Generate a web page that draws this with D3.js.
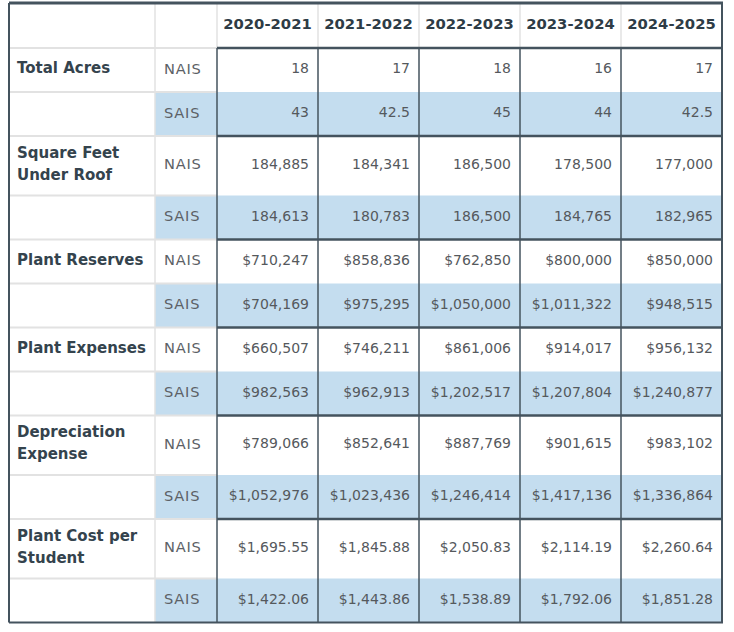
<!DOCTYPE html>
<html><head><meta charset="utf-8">
<script src="https://cdn.jsdelivr.net/npm/d3@7"></script>
<style>body{margin:0;background:#fff}svg{display:block}</style>
</head><body><svg id="c" width="734" height="632"></svg>
<script>
const years = ["2020-2021","2021-2022","2022-2023","2023-2024","2024-2025"];
const groups = ["NAIS","SAIS"];
const metrics = ["Total Acres","Square Feet Under Roof","Plant Reserves","Plant Expenses","Depreciation Expense","Plant Cost per Student"];
const metricLines = [["Total Acres"],["Square Feet","Under Roof"],["Plant Reserves"],["Plant Expenses"],["Depreciation","Expense"],["Plant Cost per","Student"]];
const totalAcresNAIS = [18,17,18,16,17];
const totalAcresSAIS = [43,42.5,45,44,42.5];
const sqFtNAIS = [184885,184341,186500,178500,177000];
const sqFtSAIS = [184613,180783,186500,184765,182965];
const reservesNAIS = [710247,858836,762850,800000,850000];
const reservesSAIS = [704169,975295,1050000,1011322,948515];
const expensesNAIS = [660507,746211,861006,914017,956132];
const expensesSAIS = [982563,962913,1202517,1207804,1240877];
const deprNAIS = [789066,852641,887769,901615,983102];
const deprSAIS = [1052976,1023436,1246414,1417136,1336864];
const costNAIS = [1695.55,1845.88,2050.83,2114.19,2260.64];
const costSAIS = [1422.06,1443.86,1538.89,1792.06,1851.28];

const seriesValues = [
  [totalAcresNAIS,totalAcresSAIS],[sqFtNAIS,sqFtSAIS],[reservesNAIS,reservesSAIS],
  [expensesNAIS,expensesSAIS],[deprNAIS,deprSAIS],[costNAIS,costSAIS]];
const fmtPlain = v => String(v);
const fmtComma = d3.format(",");
const fmtDollar = d3.format("$,");
const fmtDollar2 = d3.format("$,.2f");
const formats = [fmtPlain, fmtComma, fmtDollar, fmtDollar, fmtDollar, fmtDollar2];

const svg = d3.select("#c");
const FONT = "'DejaVu Sans', sans-serif";
const dark = "#44535e", light = "#e2e2e2", blue = "#c4ddef";
const xL = 9, xG = 155, xD = 217, xR = 722, yTop = 3, headH = 45;
const x = d3.scaleBand().domain(years).range([xD, xR]);
const dy = -2;

// build rows
const rows = [];
let y = yTop + headH;
metrics.forEach((m, i) => {
  groups.forEach((g, j) => {
    const h = j === 0 ? (metricLines[i].length > 1 ? 59.5 : 44) : 44;
    rows.push({m: i, g: j, y0: y, h, vals: seriesValues[i][j]});
    y += h;
  });
});
const yBot = y;

// fills
svg.selectAll("rect.fill").data(rows.filter(r => r.g === 1)).join("rect")
  .attr("x", xG).attr("y", d => d.y0).attr("width", xR - xG).attr("height", d => d.h)
  .attr("fill", blue);

// light lines: horizontal in label columns
svg.selectAll("line.hl").data(rows).join("line")
  .attr("x1", xL).attr("x2", xD).attr("y1", d => d.y0).attr("y2", d => d.y0)
  .attr("stroke", light).attr("stroke-width", 2);
svg.append("line").attr("x1", xG).attr("x2", xG).attr("y1", yTop).attr("y2", yBot).attr("stroke", light).attr("stroke-width", 1.5);
svg.selectAll("line.vh").data(years).join("line")
  .attr("x1", d => x(d)).attr("x2", d => x(d)).attr("y1", yTop).attr("y2", yTop + headH)
  .attr("stroke", light).attr("stroke-width", 1.5);

// dark lines in data region
svg.selectAll("line.vd").data(years).join("line")
  .attr("x1", d => x(d)).attr("x2", d => x(d)).attr("y1", yTop + headH).attr("y2", yBot)
  .attr("stroke", dark).attr("stroke-width", 1.5);
svg.selectAll("line.hd").data(rows.filter(r => r.g === 0)).join("line")
  .attr("x1", xD).attr("x2", xR).attr("y1", d => d.y0).attr("y2", d => d.y0)
  .attr("stroke", dark).attr("stroke-width", 2.5);

// outer border
svg.append("line").attr("x1", xL).attr("x2", xR + 1).attr("y1", yTop).attr("y2", yTop).attr("stroke", dark).attr("stroke-width", 3);
svg.append("line").attr("x1", xL).attr("x2", xR + 1).attr("y1", yBot).attr("y2", yBot).attr("stroke", dark).attr("stroke-width", 2);
svg.append("line").attr("x1", xL).attr("x2", xL).attr("y1", yTop).attr("y2", yBot).attr("stroke", dark).attr("stroke-width", 2);
svg.append("line").attr("x1", xR).attr("x2", xR).attr("y1", yTop).attr("y2", yBot).attr("stroke", dark).attr("stroke-width", 2);

// header text
svg.selectAll("text.hdr").data(years).join("text")
  .attr("x", d => x(d) + x.bandwidth() / 2).attr("y", yTop + headH / 2 + dy)
  .attr("text-anchor", "middle").attr("dominant-baseline", "central")
  .attr("font-family", FONT).attr("font-weight", "bold").attr("font-size", 14.8)
  .attr("fill", "#2e3c46").text(d => d);

// metric labels
const lab = svg.selectAll("text.lab").data(rows.filter(r => r.g === 0)).join("text")
  .attr("font-family", FONT).attr("font-weight", "bold").attr("font-size", 15)
  .attr("fill", "#34434d");
lab.each(function(d) {
  const lines = metricLines[d.m];
  const cy = d.y0 + d.h / 2 + dy;
  d3.select(this).selectAll("tspan").data(lines).join("tspan")
    .attr("x", 17).attr("y", (t, k) => cy + (k - (lines.length - 1) / 2) * 22)
    .attr("dominant-baseline", "central").text(t => t);
});

// group labels
svg.selectAll("text.grp").data(rows).join("text")
  .attr("x", 164).attr("y", d => d.y0 + d.h / 2 + dy)
  .attr("dominant-baseline", "central")
  .attr("font-family", FONT).attr("font-size", 14.6).attr("fill", "#5c6166")
  .attr("letter-spacing", 0.8)
  .text(d => groups[d.g]);

// values
rows.forEach(r => {
  svg.append("g").selectAll("text").data(r.vals).join("text")
    .attr("x", (v, k) => x(years[k]) + x.bandwidth() - 9)
    .attr("y", r.y0 + r.h / 2 + dy)
    .attr("text-anchor", "end").attr("dominant-baseline", "central")
    .attr("font-family", FONT).attr("font-size", 14)
    .attr("fill", "#55595d")
    .text(v => formats[r.m](v));
});
</script></body></html>
